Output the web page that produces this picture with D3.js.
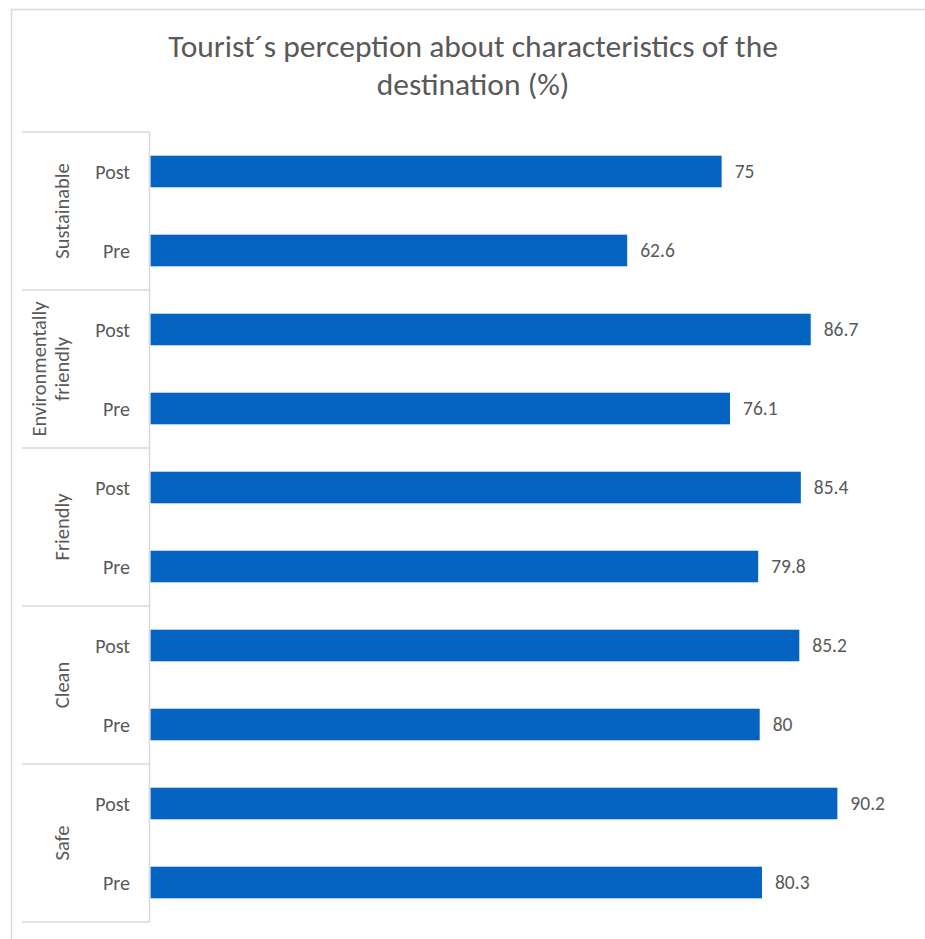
<!DOCTYPE html>
<html>
<head>
<meta charset="utf-8">
<script src="https://cdn.jsdelivr.net/npm/d3@7"></script>
<style>
  html, body { margin: 0; padding: 0; background: #fff; }
  svg { display: block; }
  text { font-family: Carlito, Calibri, Lato, "Liberation Sans", sans-serif; fill: #595959; }
</style>
</head>
<body>
<svg id="chart" width="925" height="939"></svg>
<script>
const titleLines = ["Tourist\u00b4s perception about characteristics of the", "destination (%)"];
const categories = ["Sustainable", "Environmentally friendly", "Friendly", "Clean", "Safe"];
const categoryLines = [["Sustainable"], ["Environmentally", "friendly"], ["Friendly"], ["Clean"], ["Safe"]];
const periods = ["Post", "Pre"];
const postValues = [75, 86.7, 85.4, 85.2, 90.2];
const preValues = [62.6, 76.1, 79.8, 80, 80.3];

const rows = [];
categories.forEach((c, i) => {
  rows.push({ cat: c, period: "Post", value: postValues[i], key: c + "|Post" });
  rows.push({ cat: c, period: "Pre", value: preValues[i], key: c + "|Pre" });
});

const svg = d3.select("#chart");
const plotLeft = 150.5, plotRight = 912, plotTop = 132, plotBottom = 922;

// outer chart border
svg.append("rect").attr("x", 11.5).attr("y", 9.5).attr("width", 960).attr("height", 960)
  .attr("fill", "none").attr("stroke", "#d9d9d9").attr("stroke-width", 1.5);

// title
svg.append("g").selectAll("text").data(titleLines).join("text")
  .attr("x", 473).attr("y", (d, i) => 57 + i * 38)
  .attr("text-anchor", "middle")
  .style("font-size", "31.5px")
  .text(d => d);

const x = d3.scaleLinear().domain([0, 100]).range([plotLeft, plotRight]);
const y = d3.scaleBand().domain(rows.map(r => r.key)).range([plotTop, plotBottom])
  .paddingInner(0.6).paddingOuter(0.3);
const yCat = d3.scaleBand().domain(categories).range([plotTop, plotBottom]);

// bars
svg.append("g").selectAll("rect").data(rows).join("rect")
  .attr("x", x(0)).attr("y", d => y(d.key))
  .attr("width", d => x(d.value) - x(0)).attr("height", y.bandwidth())
  .attr("fill", "#0563C1");

// value labels
svg.append("g").selectAll("text").data(rows).join("text")
  .attr("x", d => x(d.value) + 13)
  .attr("y", d => y(d.key) + y.bandwidth() / 2)
  .attr("dy", "0.35em")
  .style("font-size", "19.5px")
  .text(d => d.value);

// vertical axis line
svg.append("line").attr("x1", plotLeft - 1).attr("x2", plotLeft - 1)
  .attr("y1", plotTop).attr("y2", plotBottom)
  .attr("stroke", "#d9d9d9").attr("stroke-width", 1.5);

// group separators
const sepYs = categories.map(c => yCat(c)).concat([plotBottom]);
svg.append("g").selectAll("line").data(sepYs).join("line")
  .attr("x1", 22).attr("x2", plotLeft - 1)
  .attr("y1", d => d).attr("y2", d => d)
  .attr("stroke", "#d9d9d9").attr("stroke-width", 1.5);

// period labels
svg.append("g").selectAll("text").data(rows).join("text")
  .attr("x", 130)
  .attr("y", d => y(d.key) + y.bandwidth() / 2)
  .attr("dy", "0.35em")
  .attr("text-anchor", "end")
  .style("font-size", "20px")
  .text(d => d.period);

// category labels (rotated)
const catG = svg.append("g").selectAll("g").data(categories).join("g")
  .attr("transform", c => `translate(62, ${yCat(c) + yCat.bandwidth() / 2}) rotate(-90)`);
catG.each(function(c, i) {
  const lines = categoryLines[i];
  const n = lines.length;
  d3.select(this).selectAll("text").data(lines).join("text")
    .attr("x", 0)
    .attr("y", (d, j) => (j - (n - 1)) * 23)
    .attr("dy", "0.35em")
    .attr("text-anchor", "middle")
    .style("font-size", "20.5px")
    .text(d => d);
});
</script>
</body>
</html>
